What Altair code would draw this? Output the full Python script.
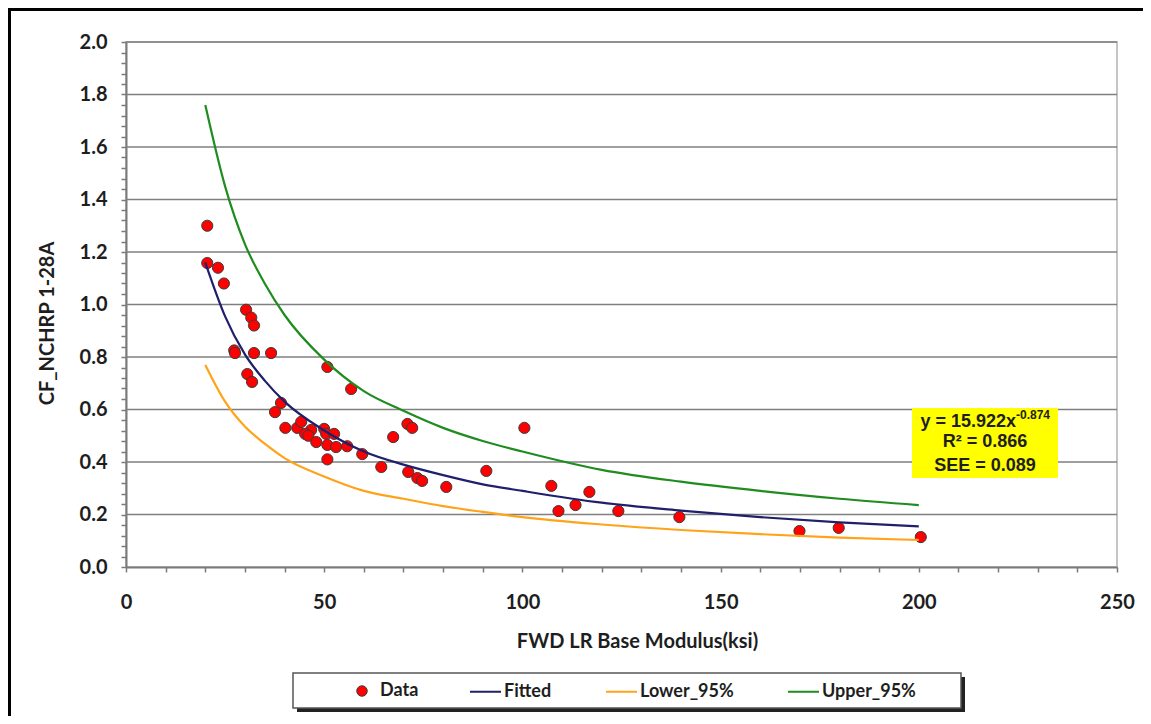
import altair as alt
import pandas as pd

# ---- data ----
data_x = [20.5, 20.5, 23.2, 24.7, 30.3, 31.6, 32.3, 27.3, 27.5, 32.3, 36.6, 30.6, 31.8,
          39.1, 37.6, 40.2, 43.2, 44.2, 46.7, 45.2, 46.0, 48.0, 50.0, 50.5, 52.5, 50.8,
          53.0, 55.8, 50.8, 59.6, 64.4, 50.8, 56.8, 67.4, 71.0, 72.2, 71.2, 73.5, 74.7,
          80.8, 90.9, 100.5, 107.3, 109.1, 113.4, 116.9, 124.2, 139.6, 169.9, 179.8, 200.5]
data_y = [1.30, 1.158, 1.14, 1.08, 0.98, 0.95, 0.92, 0.825, 0.815, 0.815, 0.815, 0.735, 0.705,
          0.625, 0.59, 0.53, 0.53, 0.553, 0.522, 0.507, 0.50, 0.476, 0.526, 0.507, 0.507, 0.465,
          0.457, 0.46, 0.41, 0.43, 0.381, 0.762, 0.678, 0.495, 0.545, 0.53, 0.362, 0.339, 0.328,
          0.305, 0.366, 0.53, 0.309, 0.213, 0.236, 0.286, 0.213, 0.19, 0.137, 0.149, 0.114]

curve_x = [20, 25, 30, 35, 40, 50, 60, 70, 80, 90, 100, 120, 140, 160, 180, 200]
fitted_y = [1.16, 0.955, 0.81, 0.71, 0.63, 0.52, 0.44, 0.39, 0.35, 0.315, 0.29, 0.245, 0.215, 0.19, 0.17, 0.155]
lower_y = [0.77, 0.63, 0.535, 0.47, 0.415, 0.345, 0.29, 0.26, 0.232, 0.21, 0.19, 0.162, 0.141, 0.125, 0.112, 0.103]
upper_y = [1.76, 1.45, 1.23, 1.08, 0.96, 0.79, 0.67, 0.595, 0.53, 0.48, 0.44, 0.37, 0.325, 0.29, 0.26, 0.236]

series_names = ["Fitted", "Lower_95%", "Upper_95%"]
series_colors = ["#1f1f6b", "#ffa31a", "#1f8c1f"]
grid_vals = [0.2, 0.4, 0.6, 0.8, 1.0, 1.2, 1.4, 1.6, 1.8, 2.0]
x_tick_vals = list(range(0, 251, 10))
y_tick_vals = [round(i * 0.04, 2) for i in range(0, 51)]

pts = pd.DataFrame({"x": data_x, "y": data_y, "series": "Data"})
curves = pd.concat([
    pd.DataFrame({"x": curve_x, "y": fitted_y, "series": "Fitted"}),
    pd.DataFrame({"x": curve_x, "y": lower_y, "series": "Lower_95%"}),
    pd.DataFrame({"x": curve_x, "y": upper_y, "series": "Upper_95%"}),
])
grid_df = pd.DataFrame({"y": grid_vals})
one = pd.DataFrame({"a": [0]})

W, H = 991, 525
FONT = "Lato"
TXT = "#1e1e1e"

xaxis = alt.Axis(values=x_tick_vals,
                 labelExpr="datum.value % 50 == 0 ? datum.label : ''",
                 title="FWD LR Base Modulus(ksi)", grid=False,
                 domainColor="#7a7a7a", domainWidth=2, tickColor="#7a7a7a", tickWidth=1.5,
                 tickSize=5, labelPadding=20, labelFont=FONT, labelFontSize=20,
                 labelFontWeight="bold", labelColor=TXT, titleFont=FONT, titleFontSize=20,
                 titleFontWeight="bold", titleColor=TXT, titleX=511, titleY=80,
                 titleBaseline="alphabetic", titleAlign="center", labelFlush=False)
yaxis = alt.Axis(values=y_tick_vals,
                 labelExpr="round(datum.value*100) % 20 == 0 ? format(datum.value, '.1f') : ''",
                 title="CF_NCHRP 1-28A", grid=False,
                 domainColor="#7a7a7a", domainWidth=2, tickColor="#7a7a7a", tickWidth=1.5,
                 tickSize=5, labelPadding=14, labelFont=FONT, labelFontSize=20,
                 labelFontWeight="bold", labelColor=TXT, titleFont=FONT, titleFontSize=20,
                 titleFontWeight="bold", titleColor=TXT, titleX=-73, titleY=281,
                 titleBaseline="alphabetic", titleAlign="center", titleAngle=-90,
                 labelFlush=False)

xs = alt.Scale(domain=[0, 250], nice=False)
ys = alt.Scale(domain=[0, 2], nice=False)
X = alt.X("x:Q", scale=xs, axis=xaxis)
Y = alt.Y("y:Q", scale=ys, axis=yaxis)

grid = alt.Chart(grid_df).mark_rule(color="#7f7f7f", strokeWidth=1.5).encode(y=Y)

points = alt.Chart(pts).mark_circle(size=125, opacity=1, stroke="#3c3c3c",
                                    strokeWidth=1).encode(
    x=X, y=Y,
    fill=alt.Fill("series:N", scale=alt.Scale(domain=["Data"], range=["#ff0000"]),
                  legend=alt.Legend(orient="none", legendX=227, legendY=640, title=None,
                                    symbolType="circle", symbolSize=110,
                                    symbolStrokeColor="#3c3c3c", symbolStrokeWidth=1,
                                    labelFont=FONT, labelFontSize=18, labelFontWeight="bold",
                                    labelColor=TXT, labelOffset=9, padding=0)))

lines = alt.Chart(curves).mark_line(strokeWidth=2.2, interpolate="monotone").encode(
    x=X, y=Y,
    stroke=alt.Stroke("series:N",
                      scale=alt.Scale(domain=series_names, range=series_colors),
                      legend=alt.Legend(orient="none", direction="horizontal",
                                        legendX=343, legendY=633, title=None,
                                        symbolType="stroke", symbolSize=961,
                                        symbolStrokeWidth=2, labelFont=FONT,
                                        labelFontSize=18, labelFontWeight="bold",
                                        labelColor=TXT, labelOffset=2,
                                        columnPadding=50, padding=0)),
    detail="series:N")

# legend frame with shadow
shadow = alt.Chart(one).mark_rect(color="#222222").encode(
    x=alt.value(171), x2=alt.value(839), y=alt.value(635), y2=alt.value(670))
box = alt.Chart(one).mark_rect(fill="white", stroke="#555555", strokeWidth=1.5).encode(
    x=alt.value(167), x2=alt.value(835), y=alt.value(631), y2=alt.value(666))

# equation annotation
ybox = alt.Chart(one).mark_rect(fill="#ffff00").encode(
    x=alt.value(786), x2=alt.value(932), y=alt.value(366), y2=alt.value(436))
ann_font = "Liberation Sans"
t1 = alt.Chart(one).mark_text(text="y = 15.922x", font=ann_font, fontSize=18,
                              fontWeight="bold", color=TXT, align="right",
                              baseline="alphabetic").encode(x=alt.value(890), y=alt.value(385))
t1s = alt.Chart(one).mark_text(text="-0.874", font=ann_font, fontSize=12,
                               fontWeight="bold", color=TXT, align="left",
                               baseline="alphabetic").encode(x=alt.value(890), y=alt.value(377))
t2 = alt.Chart(one).mark_text(text="R² = 0.866", font=ann_font, fontSize=18,
                              fontWeight="bold", color=TXT, align="center",
                              baseline="alphabetic").encode(x=alt.value(859), y=alt.value(405))
t3 = alt.Chart(one).mark_text(text="SEE = 0.089", font=ann_font, fontSize=18,
                              fontWeight="bold", color=TXT, align="center",
                              baseline="alphabetic").encode(x=alt.value(859), y=alt.value(429))

# outer frame (top and left edges)
ftop = alt.Chart(one).mark_rule(color="black", strokeWidth=3).encode(
    x=alt.value(-118), x2=alt.value(1030), y=alt.value(-32.5))
fleft = alt.Chart(one).mark_rule(color="black", strokeWidth=3).encode(
    x=alt.value(-116.5), y=alt.value(-34), y2=alt.value(700))

chart = alt.layer(grid, points, lines, shadow, box, ybox, t1, t1s, t2, t3, ftop, fleft).properties(
    width=W, height=H,
    autosize=alt.AutoSizeParams(type="none"),
    padding={"left": 118, "top": 34, "right": 26, "bottom": 149},
    background="white",
).resolve_scale(fill="independent", stroke="independent").configure_view(
    stroke="#c4c4c4", strokeWidth=2
)

chart.save("out.html", embed_options={"renderer": "svg", "actions": False})
